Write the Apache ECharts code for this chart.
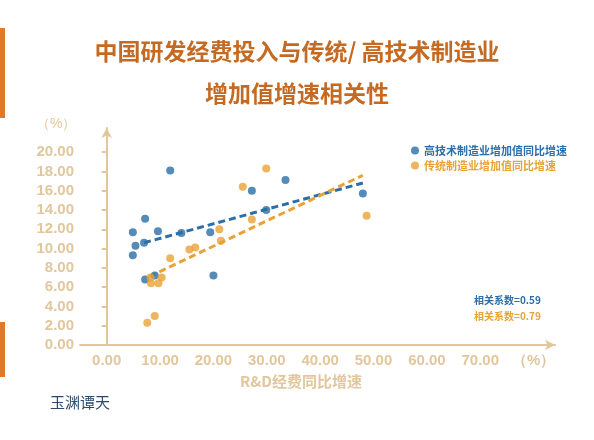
<!DOCTYPE html><html><head><meta charset="utf-8">
<script src="https://cdn.jsdelivr.net/npm/echarts@6/dist/echarts.min.js"></script>
<style>body{margin:0;background:#fff}#c{width:594px;height:440px}</style></head><body><div id="c"></div><script>
const hiTech=[[4.9,11.7],[5.4,10.3],[4.9,9.3],[7.0,10.6],[7.2,13.1],[9.6,11.8],[11.9,18.1],[14.0,11.6],[19.4,11.7],[20.0,7.2],[7.2,6.8],[9.0,7.2],[27.2,16.0],[29.9,14.0],[33.5,17.1],[48.0,15.7]];
const trad=[[29.9,18.3],[25.5,16.4],[27.2,13.0],[21.1,12.0],[21.4,10.8],[15.5,9.9],[16.6,10.1],[11.9,9.0],[8.2,7.0],[8.3,6.4],[9.7,6.4],[10.3,7.0],[9.0,3.0],[7.6,2.3],[48.7,13.4]];
const hiTrend=[[7,10.6],[48,16.8]];
const tradTrend=[[8,7.1],[48,17.6]];
const xTicks=[0,10,20,30,40,50,60,70,80];
const yTicks=[0,2,4,6,8,10,12,14,16,18,20];
const names=['高技术制造业增加值同比增速','传统制造业增加值同比增速'];
const blue='#2b6ea8',orange='#e9a236',axisC='#e2c69c';
const c=echarts.init(document.getElementById('c'));
c.setOption({
graphic:[
{type:'rect',shape:{x:0,y:28,width:5,height:90},style:{fill:'#e07a2a'}},
{type:'rect',shape:{x:0,y:322,width:5,height:55},style:{fill:'#e07a2a'}},
{type:'text',left:'center',top:40,style:{text:'中国研发经费投入与传统/ 高技术制造业',fontSize:23,fontWeight:'bold',fill:'#c46a22',fontFamily:'Noto Sans CJK SC'}},
{type:'text',left:'center',top:82,style:{text:'增加值增速相关性',fontSize:23,fontWeight:'bold',fill:'#c46a22',fontFamily:'Noto Sans CJK SC'}},
{type:'text',left:36,top:117,style:{text:'（%）',fontSize:14,fill:axisC}},
{type:'text',left:474,top:295,style:{text:'相关系数=0.59',fontSize:10,fontWeight:'bold',fill:blue,fontFamily:'Noto Sans CJK SC'}},
{type:'text',left:474,top:311,style:{text:'相关系数=0.79',fontSize:10,fontWeight:'bold',fill:orange,fontFamily:'Noto Sans CJK SC'}},
{type:'text',left:240,top:374,style:{text:'R&D经费同比增速',fontSize:15,fontWeight:'bold',fill:axisC,fontFamily:'Noto Sans CJK SC'}},
{type:'text',left:50,top:395,style:{text:'玉渊谭天',fontSize:15,fill:'#2b4a6a',fontFamily:'Noto Sans CJK SC'}}
],
legend:{data:names,right:22,top:140,orient:'vertical',icon:'circle',itemWidth:8,itemHeight:8,itemGap:4,textStyle:{fontSize:11,fontFamily:'Noto Sans CJK SC',fontWeight:'bold',color:'inherit'}},
grid:{left:80,right:39,top:128,bottom:95},
xAxis:{type:'value',min:-5,max:84,splitLine:{show:false},
 axisLine:{lineStyle:{color:axisC,width:2},symbol:['none','arrow'],symbolSize:[8,10]},axisTick:{show:false},
 axisLabel:{customValues:xTicks,color:axisC,fontSize:15,fontWeight:'bold',formatter:v=>v===80?'（%）':v.toFixed(2)}},
yAxis:{type:'value',min:0,max:22.5,splitLine:{show:false},
 axisLine:{show:true,lineStyle:{color:axisC,width:2},symbol:['none','arrow'],symbolSize:[8,10]},
 axisTick:{show:true,customValues:yTicks,length:5,lineStyle:{color:axisC,width:2}},
 axisLabel:{customValues:yTicks,color:axisC,fontSize:15,fontWeight:'bold',margin:6,formatter:v=>v.toFixed(2)}},
series:[
{name:names[0],type:'scatter',data:hiTech,symbolSize:8,itemStyle:{color:blue}},
{name:names[1],type:'scatter',data:trad,symbolSize:8,itemStyle:{color:orange}},
{type:'line',data:hiTrend,symbol:'none',lineStyle:{color:blue,width:3,type:[7,4]},z:1},
{type:'line',data:tradTrend,symbol:'none',lineStyle:{color:orange,width:3,type:[7,4]},z:1}
]});
</script></body></html>
